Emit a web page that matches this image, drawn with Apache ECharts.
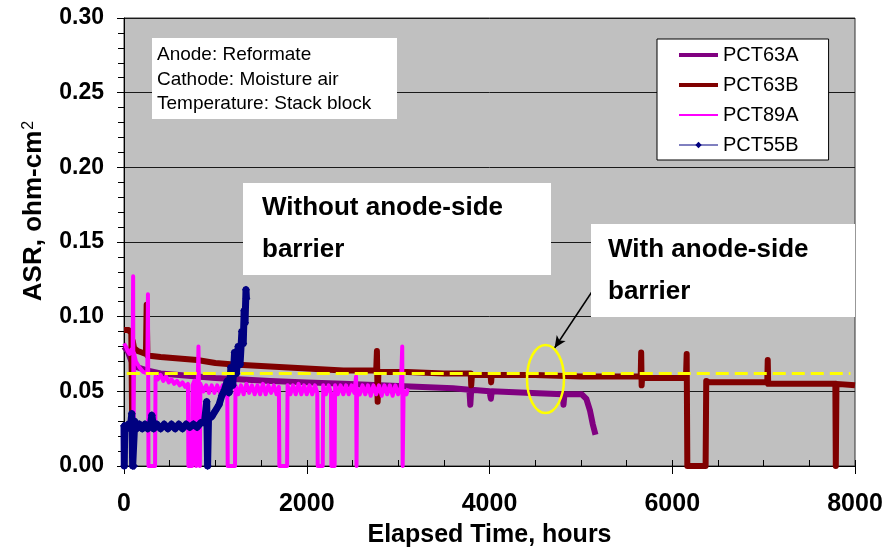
<!DOCTYPE html>
<html>
<head>
<meta charset="utf-8">
<title>ASR vs Elapsed Time</title>
<script src="https://cdn.jsdelivr.net/npm/echarts@6/dist/echarts.min.js"></script>
<style>
  html, body { margin: 0; padding: 0; background: #ffffff; }
  #chart { width: 892px; height: 553px; }
</style>
</head>
<body>
<div id="chart"></div>
<script>
// Area-specific resistance (ohm-cm2) against elapsed time (hours), one [hours, ASR] list per cell.
const seriesNames = ['PCT63A', 'PCT63B', 'PCT89A', 'PCT55B'];
const xTicks = [0, 2000, 4000, 6000, 8000];
const yTicks = [0, 0.05, 0.10, 0.15, 0.20, 0.25, 0.30];
const barrierLevel = 0.062;

const pct63A = [
  [0,0.080],[40,0.077],[70,0.072],[100,0.068],[150,0.066],[250,0.064],[400,0.062],[600,0.061],
  [800,0.060],[1000,0.059],[1300,0.058],[1600,0.057],[2000,0.056],[2400,0.055],[2800,0.054],
  [3200,0.053],[3600,0.052],[3780,0.051],[3790,0.041],[3800,0.051],[4000,0.050],[4015,0.045],
  [4025,0.050],[4400,0.049],[4800,0.048],[4810,0.041],[4820,0.048],[5010,0.048],[5060,0.045],
  [5100,0.037],[5130,0.028],[5160,0.021]
];

const pct63B = [
  [0,0.091],[50,0.091],[80,0.089],[88,0.037],[95,0.084],[110,0.079],[150,0.077],[240,0.075],
  [248,0.108],[256,0.074],[400,0.073],[600,0.072],[800,0.071],[1000,0.069],[1200,0.068],
  [1500,0.067],[1800,0.066],[2100,0.065],[2400,0.064],[2760,0.064],[2768,0.077],[2776,0.043],
  [2784,0.063],[3100,0.063],[3500,0.062],[3795,0.062],[3800,0.054],[3808,0.061],[4012,0.061],
  [4018,0.056],[4024,0.061],[4500,0.061],[5000,0.060],[5655,0.060],[5660,0.076],[5665,0.054],
  [5670,0.059],[6150,0.059],[6158,0.075],[6165,0.0],[6365,0.0],[6372,0.057],[6400,0.056],
  [7040,0.056],[7045,0.071],[7050,0.055],[7785,0.055],[7790,0.0],[7797,0.055],[8000,0.054]
];

const pct89A = [
  [0,0.082],[20,0.080],[40,0.077],[60,0.075],[80,0.078],[95,0.076],[100,0.127],[104,0.0],
  [108,0.076],[130,0.070],[150,0.068],[170,0.066],[190,0.065],[210,0.063],[230,0.064],[255,0.062],
  [262,0.115],[268,0.0],[340,0.0],[345,0.060],[370,0.058],[400,0.061],[430,0.057],[460,0.060],
  [490,0.056],[520,0.058],[550,0.055],[580,0.057],[610,0.054],[640,0.056],[670,0.053],[700,0.055],
  [705,0.0],[745,0.0],[750,0.054],[770,0.057],[790,0.0],[810,0.0],[815,0.080],[830,0.0],
  [836,0.055],[870,0.050],[900,0.054],[930,0.049],[960,0.054],[990,0.049],[1020,0.054],[1050,0.049],
  [1080,0.054],[1110,0.048],[1130,0.053],[1135,0.0],[1215,0.0],[1220,0.054],[1250,0.048],[1280,0.054],
  [1310,0.048],[1340,0.055],[1370,0.049],[1400,0.054],[1430,0.048],[1460,0.054],[1490,0.048],
  [1520,0.055],[1550,0.048],[1580,0.054],[1610,0.049],[1640,0.054],[1670,0.048],[1695,0.053],
  [1700,0.0],[1785,0.0],[1790,0.054],[1820,0.048],[1850,0.054],[1880,0.048],[1910,0.055],
  [1940,0.048],[1970,0.054],[2000,0.048],[2030,0.054],[2060,0.048],[2090,0.054],[2115,0.049],
  [2120,0.0],[2175,0.0],[2180,0.054],[2210,0.048],[2240,0.054],[2265,0.049],[2270,0.0],[2305,0.0],
  [2310,0.054],[2340,0.048],[2370,0.054],[2400,0.048],[2430,0.054],[2460,0.048],[2490,0.054],
  [2520,0.049],[2540,0.060],[2545,0.0],[2550,0.052],[2580,0.048],[2610,0.054],[2640,0.048],
  [2670,0.054],[2700,0.047],[2730,0.054],[2760,0.048],[2790,0.054],[2820,0.047],[2850,0.054],
  [2880,0.048],[2910,0.054],[2940,0.047],[2970,0.054],[3000,0.048],[3030,0.053],[3045,0.080],
  [3050,0.0],[3060,0.050],[3090,0.048],[3110,0.052]
];

const pct55B = [
  [0,0.027],[3,0.0],[8,0.027],[30,0.025],[50,0.028],[70,0.026],[85,0.035],[95,0.0],[110,0.0],
  [118,0.030],[140,0.025],[170,0.028],[200,0.025],[230,0.028],[260,0.025],[290,0.028],[305,0.034],
  [325,0.025],[360,0.028],[400,0.025],[440,0.028],[480,0.025],[520,0.028],[560,0.025],[600,0.028],
  [640,0.025],[680,0.028],[720,0.026],[760,0.028],[800,0.026],[840,0.029],[880,0.029],[905,0.043],
  [915,0.0],[925,0.032],[960,0.033],[1000,0.037],[1040,0.041],[1070,0.047],[1100,0.051],
  [1130,0.057],[1150,0.049],[1170,0.066],[1190,0.054],[1210,0.076],[1230,0.062],[1250,0.080],
  [1270,0.068],[1290,0.090],[1305,0.082],[1315,0.104],[1325,0.096],[1335,0.118],[1340,0.112]
];

const FONT = "'Liberation Sans', Arial, sans-serif";
const chart = echarts.init(document.getElementById('chart'), null, { renderer: 'canvas' });

const hideSymbol = { opacity: 0 };

const option = {
  backgroundColor: '#ffffff',
  animation: false,
  grid: {
    left: 124, right: 37, top: 18, bottom: 85,
    show: true, backgroundColor: '#c0c0c0', borderColor: '#333333', borderWidth: 1
  },
  legend: {
    orient: 'vertical',
    left: 657, top: 39,
    padding: [6, 30, 5, 20],
    backgroundColor: '#ffffff', borderColor: '#000000', borderWidth: 1,
    itemWidth: 39, itemHeight: 8, itemGap: 10,
    textStyle: { fontFamily: FONT, fontSize: 20, color: '#000000', lineHeight: 20 },
    data: [
      { name: seriesNames[0], lineStyle: { width: 4 }, itemStyle: hideSymbol },
      { name: seriesNames[1], lineStyle: { width: 4 }, itemStyle: hideSymbol },
      { name: seriesNames[2], lineStyle: { width: 2 }, itemStyle: hideSymbol },
      { name: seriesNames[3], lineStyle: { width: 1 } }
    ]
  },
  xAxis: [
    {
      type: 'value', min: xTicks[0], max: xTicks[xTicks.length - 1], interval: xTicks[1] - xTicks[0],
      name: 'Elapsed Time, hours', nameLocation: 'middle', nameGap: 57,
      nameTextStyle: { fontFamily: FONT, fontSize: 25, fontWeight: 'bold', color: '#000000' },
      axisLine: { show: true, lineStyle: { color: '#000000', width: 1 } },
      axisTick: { show: true, inside: false, length: 8, lineStyle: { color: '#000000' } },
      axisLabel: {
        margin: 26, fontFamily: FONT, fontSize: 25, fontWeight: 'bold', color: '#000000',
        formatter: v => String(v)
      },
      splitLine: { show: false }
    },
    {
      type: 'value', min: xTicks[0], max: xTicks[xTicks.length - 1], interval: 500,
      position: 'bottom',
      axisLine: { show: false },
      axisTick: { show: true, inside: true, length: 6, lineStyle: { color: '#000000' } },
      axisLabel: { show: false },
      splitLine: { show: false }
    }
  ],
  yAxis: {
    type: 'value', min: yTicks[0], max: yTicks[yTicks.length - 1], interval: 0.05,
    axisLine: { show: true, lineStyle: { color: '#000000', width: 1 } },
    axisTick: { show: true, inside: false, length: 7, lineStyle: { color: '#000000' } },
    minorTick: { show: true, splitNumber: 5, length: 6, lineStyle: { color: '#000000' } },
    axisLabel: {
      margin: 20, fontFamily: FONT, fontSize: 23, fontWeight: 'bold', color: '#000000',
      formatter: v => v.toFixed(2)
    },
    splitLine: { show: true, lineStyle: { color: '#1a1a1a', width: 1 } }
  },
  series: [
    {
      name: seriesNames[0], type: 'line', data: pct63A, symbol: 'none',
      lineStyle: { color: '#800080', width: 6, join: 'round' }, itemStyle: { color: '#800080' }
    },
    {
      name: seriesNames[1], type: 'line', data: pct63B, symbol: 'none',
      lineStyle: { color: '#800000', width: 6, join: 'round' }, itemStyle: { color: '#800000' }
    },
    {
      name: seriesNames[2], type: 'line', data: pct89A, symbol: 'none',
      lineStyle: { color: '#ff00ff', width: 4, join: 'round' }, itemStyle: { color: '#ff00ff' },
      markLine: {
        silent: true, animation: false, symbol: ['none', 'none'],
        label: { show: false },
        data: [
          [
            { coord: [30, barrierLevel], lineStyle: { color: '#ffff00', width: 3, type: [13, 6] } },
            { coord: [7950, barrierLevel] }
          ]
        ]
      }
    },
    {
      name: seriesNames[3], type: 'line', data: pct55B,
      symbol: 'diamond', symbolSize: 8, showSymbol: true, showAllSymbol: true,
      lineStyle: { color: '#000080', width: 7, join: 'round' }, itemStyle: { color: '#000080' },
      markLine: {
        silent: true, animation: false, symbol: ['none', 'arrow'], symbolSize: [8, 12],
        label: { show: false },
        data: [
          [
            { coord: [5121, 0.1167], lineStyle: { color: '#000000', width: 1.5, type: 'solid' } },
            { coord: [4712, 0.0790] }
          ]
        ]
      }
    }
  ],
  graphic: [
    { type: 'rect', shape: { x: 152, y: 38, width: 245, height: 81 }, style: { fill: '#ffffff' }, z: 50 },
    {
      type: 'text', x: 157, y: 43, z: 51,
      style: {
        text: 'Anode: Reformate\nCathode: Moisture air\nTemperature: Stack block',
        fontFamily: FONT, fontSize: 19, lineHeight: 24.5, fill: '#000000'
      }
    },
    { type: 'rect', shape: { x: 243, y: 183, width: 308, height: 92 }, style: { fill: '#ffffff' }, z: 50 },
    {
      type: 'text', x: 262, y: 187, z: 51,
      style: {
        text: 'Without anode-side\nbarrier',
        fontFamily: FONT, fontSize: 26, fontWeight: 'bold', lineHeight: 42, fill: '#000000'
      }
    },
    { type: 'rect', shape: { x: 591, y: 224, width: 264, height: 93 }, style: { fill: '#ffffff' }, z: 50 },
    {
      type: 'text', x: 608, y: 229, z: 51,
      style: {
        text: 'With anode-side\nbarrier',
        fontFamily: FONT, fontSize: 26, fontWeight: 'bold', lineHeight: 42, fill: '#000000'
      }
    },
    {
      type: 'ellipse', shape: { cx: 545.5, cy: 379, rx: 18.5, ry: 34 },
      style: { fill: 'none', stroke: '#ffff00', lineWidth: 2.5 }, z: 100
    },
    {
      type: 'text', x: 34, y: 211, rotation: Math.PI / 2, z: 51,
      style: {
        text: '{a|ASR, ohm-cm}{s|2}',
        align: 'center', verticalAlign: 'middle',
        rich: {
          a: { fontFamily: FONT, fontSize: 26, fontWeight: 'bold', fill: '#000000' },
          s: { fontFamily: FONT, fontSize: 16, fill: '#000000', verticalAlign: 'top', padding: [0, 0, 10, 1] }
        }
      }
    }
  ]
};

chart.setOption(option);
</script>
</body>
</html>
